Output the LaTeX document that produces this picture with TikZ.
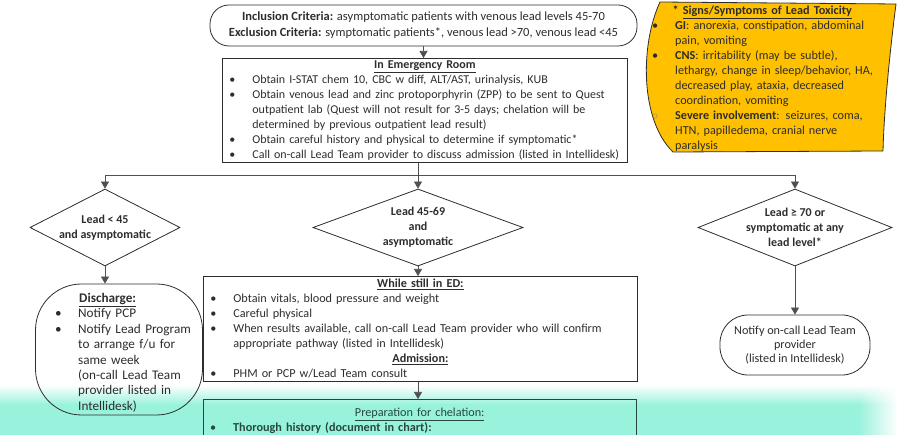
\documentclass[tikz,border=0pt]{standalone}
\usepackage{fontspec}
\setmainfont{Carlito}
\usetikzlibrary{arrows.meta,shapes.geometric,fadings}

\definecolor{gold}{RGB}{255,192,0}
\definecolor{mint}{RGB}{152,242,220}
\definecolor{ink}{RGB}{45,45,45}
\definecolor{wire}{RGB}{80,80,80}
\definecolor{deepmint}{RGB}{38,72,62}

\tikzfading[name=fadeeast, left color=transparent!100, right color=transparent!0]

\newcommand{\fsz}[2]{\fontsize{#1}{#2}\selectfont}
\newcommand{\bl}[1]{\makebox[26pt][l]{\hspace{3pt}\textbullet}\mbox{#1}}
\newcommand{\blo}[1]{\makebox[26pt][l]{\hspace{3pt}\textcolor{gray}{$\circ$}}\mbox{#1}}
\newcommand{\cont}[1]{\hspace*{26pt}\mbox{#1}}
\newcommand{\ttl}[1]{\makebox[\hsize][c]{\textbf{\underline{#1}}}}

\begin{document}
\begin{tikzpicture}[x=1pt,y=-1pt,
  every node/.style={font=\fsz{12.2pt}{15pt}, text=ink},
  box/.style={draw=ink, line width=0.8pt, rectangle, inner xsep=4pt, inner ysep=0pt, align=left},
  pill/.style={draw=ink, line width=0.8pt, rectangle, align=center},
  dia/.style={draw=ink, line width=0.8pt, diamond, inner sep=0pt},
  dtext/.style={font=\fsz{12pt}{15pt}\bfseries, align=center},
  wireline/.style={draw=wire, line width=0.7pt},
  arr/.style={wireline, -{Triangle[width=8pt,length=7pt]}}]
\useasboundingbox (0,0) rectangle (897,435);

% mint band across the foot of the chart
\shade[top color=white, bottom color=mint] (0,385) rectangle (897.5,405);
\fill[mint] (0,404.5) rectangle (897.5,436);
\fill[white, path fading=fadeeast] (858,380) rectangle (897.5,436);

% criteria
\node[pill, rounded corners=19pt, minimum width=427pt, minimum height=41pt, font=\fsz{12.5pt}{16pt}] (top) at (423.5,25.5)
  {\textbf{Inclusion Criteria:} asymptomatic patients with venous lead levels 45-70\\
   \textbf{Exclusion Criteria:} symptomatic patients*, venous lead >70, venous lead <45};

% emergency room
\node[box, anchor=north west, minimum height=104pt, text width=397pt, font=\fsz{12pt}{15pt}] (er) at (222,58) {%
\ttl{In Emergency Room}\\
\bl{Obtain I-STAT chem 10, CBC w diff, ALT/AST, urinalysis, KUB}\\
\bl{Obtain venous lead and zinc protoporphyrin (ZPP) to be sent to Quest}\\
\cont{outpatient lab (Quest will not result for 3-5 days; chelation will be}\\
\cont{determined by previous outpatient lead result)}\\
\bl{Obtain careful history and physical to determine if symptomatic*}\\
\bl{Call on-call Lead Team provider to discuss admission (listed in Intellidesk)}};

% signs and symptoms
\path[fill=gold, draw=ink, line width=0.8pt]
  (660,2) -- (896,4) .. controls (890,50) and (884,110) .. (883,151)
  -- (673,152) .. controls (640,120) and (640,45) .. (660,2) -- cycle;
\node[anchor=north west, inner sep=0pt, text width=226pt, align=left] (tox) at (649,6) {%
\makebox[\hsize][c]{\textbf{* \underline{Signs/Symptoms of Lead Toxicity}}}\\
\bl{\textbf{GI}: anorexia, constipation, abdominal}\\
\cont{pain, vomiting}\\
\bl{\textbf{CNS}: irritability (may be subtle),}\\
\cont{lethargy, change in sleep/behavior, HA,}\\
\cont{decreased play, ataxia, decreased}\\
\cont{coordination, vomiting}\\
\blo{\textbf{Severe involvement}: seizures, coma,}\\
\cont{HTN, papilledema, cranial nerve}\\
\cont{paralysis}};

% decisions
\node[dia, minimum width=150pt, minimum height=77pt] (d1) at (105,227.5) {};
\node[dtext] (d1t) at (d1) {Lead < 45\\and asymptomatic};
\node[dia, minimum width=210pt, minimum height=77pt] (d2) at (418,227.5) {};
\node[dtext] (d2t) at (d2) {Lead 45-69\\and\\asymptomatic};
\node[dia, minimum width=194pt, minimum height=77pt] (d3) at (795,227.5) {};
\node[dtext] (d3t) at (d3) {Lead ≥ 70 or\\symptomatic at any\\lead level*};

% discharge
\node[draw=ink, line width=0.8pt, rectangle, rounded corners=46pt, minimum width=167pt, minimum height=131pt] (dis) at (119,349.5) {};
\node[anchor=north west, inner sep=0pt, text width=150pt, align=left, font=\fsz{13.2pt}{15.4pt}] (dist) at (52,293) {%
\hspace*{27pt}\textbf{\underline{Discharge:}}\\
\bl{Notify PCP}\\
\bl{Notify Lead Program}\\
\cont{to arrange f/u for}\\
\cont{same week}\\
\cont{(on-call Lead Team}\\
\cont{provider listed in}\\
\cont{Intellidesk)}};

% while still in the ED
\node[box, anchor=north west, minimum height=105pt, text width=426pt] (ed) at (203,276) {%
\ttl{While still in ED:}\\
\bl{Obtain vitals, blood pressure and weight}\\
\bl{Careful physical}\\
\bl{When results available, call on-call Lead Team provider who will confirm}\\
\cont{appropriate pathway (listed in Intellidesk)}\\
\ttl{Admission:}\\
\bl{PHM or PCP w/Lead Team consult}};

% chelation preparation
\node[draw=deepmint, line width=0.8pt, rectangle, anchor=north west, minimum width=433pt, minimum height=60pt] (prep) at (203,399) {};
\node[anchor=north west, inner sep=0pt, text width=425pt, align=left, text=deepmint] (prept) at (207,408) {%
\makebox[\hsize][c]{\underline{Preparation for chelation:}}\\
\bl{\textbf{Thorough history (document in chart):}}};

% notify
\node[pill, rounded corners=28pt, minimum width=150pt, minimum height=60pt, font=\fsz{12.2pt}{14pt}] (ntf) at (795,345)
  {Notify on-call Lead Team\\provider\\(listed in Intellidesk)};

% connectors
\coordinate (split) at (418,175);
\draw[arr] (top.south) -- (top.south |- er.north);
\draw[wireline] (split |- er.south) -- (split);
\draw[arr] (split) -- (d2.north);
\draw[arr] (split) -| (d1.north);
\draw[arr] (split) -| (d3.north);
\draw[arr] (d1.south) -- (d1.south |- dis.north);
\draw[arr] (d2.south) -- (d2.south |- ed.north);
\draw[arr] (d2.south |- ed.south) -- (d2.south |- prep.north);
\draw[arr] (d3.south) -- (ntf.north);
\end{tikzpicture}
\end{document}
